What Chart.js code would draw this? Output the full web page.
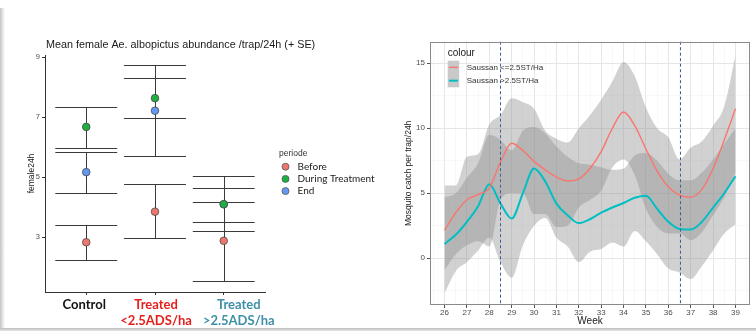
<!DOCTYPE html>
<html><head><meta charset="utf-8">
<script src="https://cdn.jsdelivr.net/npm/chart.js@4/dist/chart.umd.min.js"></script>
<style>
html,body{margin:0;padding:0;background:#fff;width:756px;height:333px;overflow:hidden;position:relative;}
#c1{position:absolute;left:0;top:30px;}
#c2{position:absolute;left:380px;top:30px;}
.frameL{position:absolute;left:0;top:8px;width:5px;height:321px;background:linear-gradient(to right,#c4c4c4,#ffffff);}
.frameB{position:absolute;left:0;top:328px;width:756px;height:3px;background:linear-gradient(to bottom,#bcbcbc,#e6e6e6);}
</style></head><body>
<div class="frameL"></div><div class="frameB"></div>
<canvas id="c1" width="380" height="303"></canvas>
<canvas id="c2" width="376" height="303"></canvas>
<script>
Chart.defaults.font.family = "'Liberation Sans', Arial, sans-serif";
Chart.defaults.animation = false;

/* ---------- LEFT CHART DATA ---------- */
const leftTitle = 'Mean female Ae. albopictus abundance /trap/24h (+ SE)';
const leftYTitle = 'female24h';
const leftLegendTitle = 'periode';
const groupLabels = [['Control'], ['Treated', '<2.5ADS/ha'], ['Treated', '>2.5ADS/ha']];
const groupColors = ['#111111', '#e41f1c', '#3e8fa7'];
const periodNames = ['Before', 'During Treatment', 'End'];
const periodColors = ['#EE766D', '#1EAF43', '#6399F2'];
const leftYTicks = [3, 5, 7, 9];
const beforeMean = [2.83, 3.85, 2.88];
const beforeLow  = [2.23, 2.96, 1.53];
const beforeHigh = [3.40, 4.76, 4.18];
const duringMean = [6.68, 7.64, 4.10];
const duringLow  = [5.97, 6.99, 3.19];
const duringHigh = [7.36, 8.31, 5.03];
const endMean = [5.17, 7.22, 4.10];
const endLow  = [4.49, 5.71, 3.51];
const endHigh = [5.84, 8.73, 4.64];

/* ---------- RIGHT CHART DATA ---------- */
const rightXTitle = 'Week';
const rightYTitle = 'Mosquito catch per trap/24h';
const rightLegendTitle = 'colour';
const seriesNames = ['Saussan <=2.5ST/Ha', 'Saussan >2.5ST/Ha'];
const seriesColors = ['#F8766D', '#00BFC4'];
const weekTicks = [26, 27, 28, 29, 30, 31, 32, 33, 34, 35, 36, 37, 38, 39];
const rightYTicks = [0, 5, 10, 15];
const treatmentWeeks = [28.5, 36.5];
const weeks = [26, 26.5, 27, 27.5, 28, 28.5, 29, 29.5, 30, 30.5, 31, 31.5, 32, 32.5, 33, 33.5, 34, 34.5, 35, 35.5, 36, 36.5, 37, 37.5, 38, 38.5, 39];
const redFit    = [2.15, 3.5, 4.5, 4.9, 5.4, 7.4, 8.85, 8.3, 7.45, 6.8, 6.25, 5.95, 6.1, 6.9, 8.2, 10.0, 11.25, 10.2, 8.4, 6.7, 5.5, 4.85, 4.7, 5.3, 6.9, 9.1, 11.5];
const redUpper  = [5.6, 5.6, 7.8, 8.0, 10.3, 11.0, 12.3, 12.0, 11.5, 9.8, 9.2, 8.9, 10.0, 11.0, 12.2, 13.6, 15.1, 14.0, 11.6, 10.0, 9.3, 7.6, 8.5, 9.0, 10.2, 11.7, 15.6];
const redLower  = [-0.9, 0.3, 1.0, 1.3, 0.9, 4.5, 5.0, 5.0, 3.4, 3.4, 2.4, 2.5, 3.9, 4.5, 5.2, 7.0, 7.6, 6.4, 3.8, 2.4, 1.9, 1.9, 1.4, 2.0, 3.3, 4.7, 6.6];
const tealFit   = [1.1, 1.8, 2.8, 4.0, 5.7, 4.2, 3.05, 5.0, 6.9, 5.9, 4.2, 3.3, 2.7, 3.0, 3.5, 3.9, 4.25, 4.65, 4.8, 3.8, 2.8, 2.25, 2.2, 2.8, 3.9, 5.0, 6.3];
const tealUpper = [4.7, 5.0, 6.2, 7.3, 9.5, 9.1, 8.3, 9.8, 10.1, 9.6, 8.6, 7.8, 7.3, 7.2, 7.0, 6.8, 6.9, 7.9, 8.1, 7.5, 6.5, 6.0, 6.0, 6.6, 7.6, 8.8, 10.0];
const tealLower = [-2.7, -1.0, -0.3, 0.6, 1.6, -0.3, -1.5, 1.0, 2.5, 3.1, 1.6, 0.9, -0.3, 0.5, 0.7, 1.2, 0.9, 2.1, 1.3, 0.3, -0.8, -1.1, -1.6, -0.6, 0.6, 1.9, 2.6];

/* ---------- LEFT CHART ---------- */
const periodSeries = [
  {mean: beforeMean, low: beforeLow, high: beforeHigh},
  {mean: duringMean, low: duringLow, high: duringHigh},
  {mean: endMean, low: endLow, high: endHigh}
];
const labelShift = [-2, 1, 15];

const leftTitlePlugin = {
  id: 'leftTitle',
  afterDraw(chart) {
    const {ctx, chartArea: a} = chart;
    ctx.save();
    ctx.textAlign = 'left';
    ctx.textBaseline = 'middle';
    ctx.fillStyle = '#1a1a1a';
    ctx.font = "10.8px 'Liberation Sans', Arial, sans-serif";
    ctx.fillText(leftTitle, a.left + 1, a.top - 9.5);
    ctx.restore();
  }
};

const errorBars = {
  id: 'errorBars',
  beforeDatasetsDraw(chart) {
    const {ctx, scales: {x, y}} = chart;
    ctx.save();
    ctx.strokeStyle = '#3a3a3a';
    ctx.lineWidth = 1;
    periodSeries.forEach(s => s.mean.forEach((m, i) => {
      const xc = Math.round(x.getPixelForValue(i + 1)) + 0.5;
      const x0 = x.getPixelForValue(i + 1 - 0.45), x1 = x.getPixelForValue(i + 1 + 0.45);
      const y0 = Math.round(y.getPixelForValue(s.low[i])) + 0.5;
      const y1 = Math.round(y.getPixelForValue(s.high[i])) + 0.5;
      ctx.beginPath();
      ctx.moveTo(xc, y0); ctx.lineTo(xc, y1);
      ctx.moveTo(x0, y0); ctx.lineTo(x1, y0);
      ctx.moveTo(x0, y1); ctx.lineTo(x1, y1);
      ctx.stroke();
    }));
    ctx.restore();
  }
};

const leftXLabels = {
  id: 'leftXLabels',
  afterDraw(chart) {
    const {ctx, chartArea: a, scales: {x}} = chart;
    ctx.save();
    ctx.textAlign = 'center';
    ctx.textBaseline = 'middle';
    ctx.font = "bold 13px Lato, 'Open Sans', sans-serif";
    groupLabels.forEach((lines, i) => {
      const cx = x.getPixelForValue(i + 1) + labelShift[i];
      ctx.fillStyle = groupColors[i];
      lines.forEach((t, j) => ctx.fillText(t, cx, a.bottom + 13 + j * 15.7));
    });
    ctx.restore();
  }
};

const leftLegend = {
  id: 'leftLegend',
  afterDraw(chart) {
    const ctx = chart.ctx, a = chart.chartArea;
    const mid = (a.top + a.bottom) / 2;
    const x0 = a.right + 14;
    ctx.save();
    ctx.textBaseline = 'middle';
    ctx.textAlign = 'left';
    ctx.fillStyle = '#333';
    ctx.font = "8.5px 'Liberation Sans', Arial, sans-serif";
    ctx.fillText(leftLegendTitle, x0, mid - 19.5);
    periodNames.forEach((n, i) => {
      const yy = mid - 6.8 + i * 12.2;
      ctx.beginPath();
      ctx.arc(x0 + 6.5, yy, 3.5, 0, Math.PI * 2);
      ctx.fillStyle = periodColors[i];
      ctx.fill();
      ctx.lineWidth = 0.8; ctx.strokeStyle = '#555';
      ctx.stroke();
      ctx.fillStyle = '#222';
      ctx.font = "10px Lato, 'Open Sans', sans-serif";
      ctx.fillText(n, x0 + 18.5, yy);
    });
    ctx.restore();
  }
};

new Chart(document.getElementById('c1'), {
  type: 'scatter',
  data: {
    datasets: periodNames.map((n, k) => ({
      label: n,
      data: periodSeries[k].mean.map((v, i) => ({x: i + 1, y: v})),
      backgroundColor: periodColors[k],
      borderColor: '#4a4a4a',
      borderWidth: 0.8,
      pointRadius: 3.8,
      pointHoverRadius: 3.8
    }))
  },
  options: {
    responsive: false,
    devicePixelRatio: 1,
    layout: {padding: {left: 0, right: 115, top: 25, bottom: 0}},
    plugins: {legend: {display: false}, tooltip: {enabled: false}, title: {display: false}},
    scales: {
      x: {
        type: 'linear', min: 0.4, max: 3.6,
        afterBuildTicks: s => { s.ticks = groupLabels.map((g, i) => ({value: i + 1})); },
        afterFit: s => { s.height = 41; },
        grid: {drawOnChartArea: false, drawTicks: true, tickLength: 3, tickColor: '#333'},
        border: {display: true, color: '#333', width: 1},
        ticks: {autoSkip: false, maxRotation: 0, callback: () => ''}
      },
      y: {
        type: 'linear', min: 1.17, max: 9.08,
        afterBuildTicks: s => { s.ticks = leftYTicks.map(v => ({value: v})); },
        afterFit: s => { s.width = 45; },
        grid: {drawOnChartArea: false, drawTicks: true, tickLength: 3, tickColor: '#333'},
        border: {display: true, color: '#333', width: 1},
        ticks: {color: '#4d4d4d', font: {size: 7.5}, padding: 2},
        title: {display: true, text: leftYTitle, color: '#222', font: {size: 8.5}, padding: {top: 27, bottom: 0}}
      }
    }
  },
  plugins: [errorBars, leftTitlePlugin, leftXLabels, leftLegend]
});

/* ---------- RIGHT CHART ---------- */
const pts = arr => weeks.map((w, i) => ({x: w, y: arr[i]}));
const ribbonFill = 'rgba(140,140,140,0.4)';
const ribbon = (arr, fill) => ({
  data: pts(arr), borderColor: 'rgba(0,0,0,0)', borderWidth: 0, backgroundColor: ribbonFill,
  fill: fill, pointRadius: 0, pointHoverRadius: 0, cubicInterpolationMode: 'monotone'
});

const vLines = {
  id: 'vLines',
  afterDatasetsDraw(chart) {
    const {ctx, chartArea: a, scales: {x}} = chart;
    ctx.save();
    ctx.strokeStyle = '#3f5f98';
    ctx.lineWidth = 1;
    ctx.setLineDash([3, 2.5]);
    treatmentWeeks.forEach(w => {
      const px = Math.round(x.getPixelForValue(w)) + 0.5;
      ctx.beginPath(); ctx.moveTo(px, a.top); ctx.lineTo(px, a.bottom); ctx.stroke();
    });
    ctx.restore();
  }
};

const panelBorder = {
  id: 'panelBorder',
  afterDraw(chart) {
    const {ctx, chartArea: a} = chart;
    ctx.save();
    ctx.strokeStyle = '#8a8a8a';
    ctx.lineWidth = 1;
    ctx.strokeRect(Math.round(a.left) + 0.5, Math.round(a.top) + 0.5, Math.round(a.width) - 1, Math.round(a.height) - 1);
    ctx.restore();
  }
};

const rightLegend = {
  id: 'rightLegend',
  afterDraw(chart) {
    const {ctx, chartArea: a} = chart;
    const x0 = a.left + 17.7, y0 = a.top;
    ctx.save();
    ctx.textBaseline = 'middle';
    ctx.textAlign = 'left';
    ctx.fillStyle = '#222';
    ctx.font = "10px 'Liberation Sans', Arial, sans-serif";
    ctx.fillText(rightLegendTitle, x0, y0 + 11.6);
    seriesNames.forEach((n, i) => {
      const top = y0 + 19 + i * 13.3;
      ctx.fillStyle = '#c9c9c9';
      ctx.fillRect(x0, top, 11.5, 13.3);
      ctx.strokeStyle = seriesColors[i];
      ctx.lineWidth = i === 0 ? 1.4 : 2;
      ctx.beginPath(); ctx.moveTo(x0 + 1.2, top + 6.65); ctx.lineTo(x0 + 10.3, top + 6.65); ctx.stroke();
      ctx.fillStyle = '#333';
      ctx.font = "8px 'Liberation Sans', Arial, sans-serif";
      ctx.fillText(n, x0 + 19, top + 6.65);
    });
    ctx.restore();
  }
};

new Chart(document.getElementById('c2'), {
  type: 'line',
  data: {
    datasets: [
      {label: seriesNames[0], data: pts(redFit), borderColor: seriesColors[0], borderWidth: 1.4, pointRadius: 0, pointHoverRadius: 0, fill: false, cubicInterpolationMode: 'monotone'},
      {label: seriesNames[1], data: pts(tealFit), borderColor: seriesColors[1], borderWidth: 2, pointRadius: 0, pointHoverRadius: 0, fill: false, cubicInterpolationMode: 'monotone'},
      ribbon(redUpper, '+1'),
      ribbon(redLower, false),
      ribbon(tealUpper, '+1'),
      ribbon(tealLower, false)
    ]
  },
  options: {
    responsive: false,
    devicePixelRatio: 1,
    layout: {padding: {left: 23, right: 6, top: 11.7, bottom: 6}},
    plugins: {legend: {display: false}, tooltip: {enabled: false}},
    scales: {
      x: {
        type: 'linear', min: 25.35, max: 39.65,
        afterBuildTicks: s => { const t = []; for (let v = 25.5; v <= 39.5; v += 0.5) t.push({value: v}); s.ticks = t; },
        afterFit: s => { s.height = 22; },
        grid: {
          color: c => weekTicks.includes(c.tick.value) ? '#e6e6e6' : '#f3f3f3',
          lineWidth: c => weekTicks.includes(c.tick.value) ? 1 : 0.6,
          tickLength: 3,
          tickColor: c => weekTicks.includes(c.tick.value) ? '#555' : 'rgba(0,0,0,0)'
        },
        border: {display: false},
        ticks: {
          autoSkip: false, maxRotation: 0, padding: 0,
          callback: v => weekTicks.includes(v) ? String(v) : '',
          color: '#4d4d4d', font: {size: 8}
        },
        title: {display: true, text: rightXTitle, color: '#222', font: {size: 10}, padding: {top: 0, bottom: 0}}
      },
      y: {
        type: 'linear', min: -3.6, max: 16.66,
        afterBuildTicks: s => { const t = []; for (let v = -2.5; v <= 15; v += 2.5) t.push({value: v}); s.ticks = t; },
        afterFit: s => { s.width = 27; },
        grid: {
          color: c => rightYTicks.includes(c.tick.value) ? '#e6e6e6' : '#f3f3f3',
          lineWidth: c => rightYTicks.includes(c.tick.value) ? 1 : 0.6,
          tickLength: 3,
          tickColor: c => rightYTicks.includes(c.tick.value) ? '#555' : 'rgba(0,0,0,0)'
        },
        border: {display: false},
        ticks: {
          padding: 2,
          callback: v => rightYTicks.includes(v) ? String(v) : '',
          color: '#4d4d4d', font: {size: 8}
        },
        title: {display: true, text: rightYTitle, color: '#222', font: {size: 8.5}, padding: {top: 1, bottom: 0}}
      }
    }
  },
  plugins: [vLines, panelBorder, rightLegend]
});
</script>
</body></html>
